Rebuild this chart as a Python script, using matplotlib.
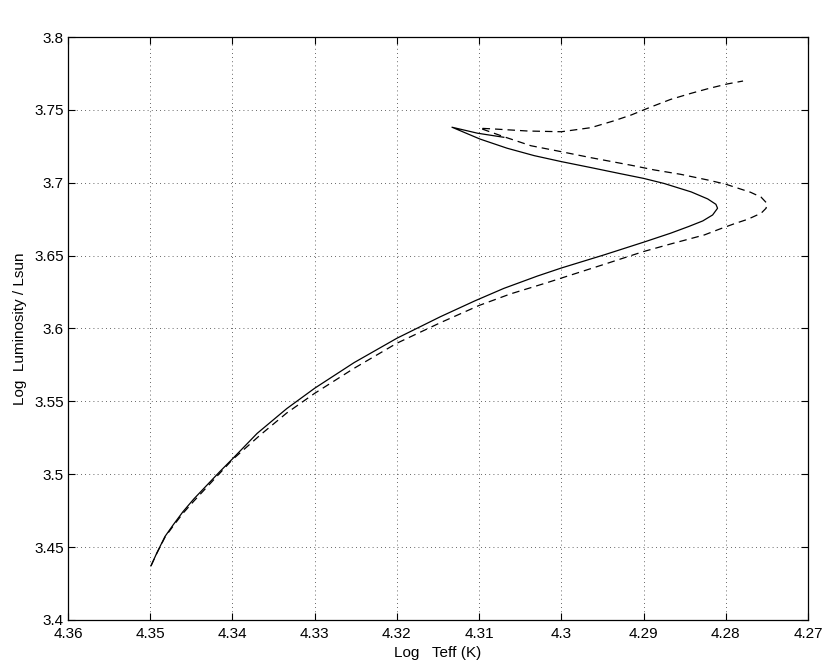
import matplotlib
matplotlib.use("Agg")
import matplotlib.pyplot as plt
import numpy as np

# evolutionary tracks (log Teff, log L/Lsun)
solid_teff = [4.3499, 4.3492, 4.3482, 4.3472, 4.3460, 4.3447, 4.3431, 4.3415, 4.3400,
              4.3370, 4.3334, 4.3300, 4.3252, 4.3200, 4.3147, 4.3105, 4.3070, 4.3029,
              4.3000, 4.2948, 4.2900, 4.2867, 4.2845, 4.2828, 4.2816, 4.2810, 4.2812,
              4.2822, 4.2842, 4.2875, 4.2900, 4.2928, 4.2964, 4.3000, 4.3033, 4.3066,
              4.3099, 4.3133, 4.3102, 4.3070]
solid_logl = [3.4372, 3.4459, 3.4573, 3.4653, 3.4744, 3.4830, 3.4925, 3.5020, 3.5105,
              3.5280, 3.5450, 3.5590, 3.5766, 3.5933, 3.6081, 3.6190, 3.6275, 3.6360,
              3.6415, 3.6505, 3.6592, 3.6654, 3.6700, 3.6738, 3.6779, 3.6825, 3.6852,
              3.6889, 3.6937, 3.6995, 3.7030, 3.7062, 3.7104, 3.7145, 3.7186, 3.7237,
              3.7300, 3.7381, 3.7340, 3.7312]

dashed_teff = [4.3499, 4.3492, 4.3482, 4.3472, 4.3460, 4.3447, 4.3431, 4.3400, 4.3366,
               4.3334, 4.3300, 4.3252, 4.3200, 4.3147, 4.3100, 4.3062, 4.3017, 4.2948,
               4.2900, 4.2867, 4.2826, 4.2808, 4.2790, 4.2773, 4.2757, 4.2751, 4.2750,
               4.2757, 4.2770, 4.2781, 4.2800, 4.2822, 4.2855, 4.2887, 4.2915, 4.2964,
               4.3000, 4.3037, 4.3070, 4.3099, 4.3082, 4.3041, 4.3000, 4.2964, 4.2936,
               4.2915, 4.2891, 4.2867, 4.2842, 4.2820, 4.2798, 4.2779]
dashed_logl = [3.4372, 3.4457, 3.4568, 3.4645, 3.4733, 3.4815, 3.4912, 3.5100, 3.5270,
               3.5420, 3.5555, 3.5727, 3.5899, 3.6040, 3.6158, 3.6237, 3.6315, 3.6440,
               3.6528, 3.6580, 3.6642, 3.6681, 3.6718, 3.6750, 3.6791, 3.6825, 3.6859,
               3.6901, 3.6935, 3.6955, 3.6990, 3.7019, 3.7058, 3.7088, 3.7120, 3.7172,
               3.7213, 3.7254, 3.7316, 3.7374, 3.7369, 3.7355, 3.7350, 3.7378, 3.7425,
               3.7465, 3.7520, 3.7572, 3.7614, 3.7648, 3.7678, 3.7698]

x_ticks = np.arange(4.27, 4.3601, 0.01)
y_ticks = np.arange(3.40, 3.8001, 0.05)
x_labels = ["4.27", "4.28", "4.29", "4.3", "4.31", "4.32", "4.33", "4.34", "4.35", "4.36"]
y_labels = ["3.4", "3.45", "3.5", "3.55", "3.6", "3.65", "3.7", "3.75", "3.8"]

plt.rcParams["font.family"] = ["Liberation Sans", "DejaVu Sans"]
plt.rcParams["font.size"] = 11

fig = plt.figure(figsize=(8.3, 6.68), dpi=100)
ax = fig.add_axes([0.0819, 0.0719, 0.8916, 0.8727])

ax.plot(solid_teff, solid_logl, "k-", lw=0.9)
ax.plot(dashed_teff, dashed_logl, "k--", lw=0.9, dashes=(6, 4))

ax.set_xlim(4.36, 4.27)
ax.set_ylim(3.4, 3.8)
ax.set_xticks(x_ticks)
ax.set_xticklabels(x_labels)
ax.set_yticks(y_ticks)
ax.set_yticklabels(y_labels)
ax.tick_params(direction="in", top=True, right=True, length=5, width=0.8, pad=3)
ax.tick_params(axis="x", pad=5)
ax.grid(True, linestyle=(0, (1, 4)), color="black", lw=0.6, alpha=0.8)
for s in ax.spines.values():
    s.set_linewidth(0.9)

ax.set_xlabel("Log   Teff (K)", labelpad=4)
ax.set_ylabel("Log  Luminosity / Lsun", labelpad=5)

fig.savefig("out.png", dpi=100)
